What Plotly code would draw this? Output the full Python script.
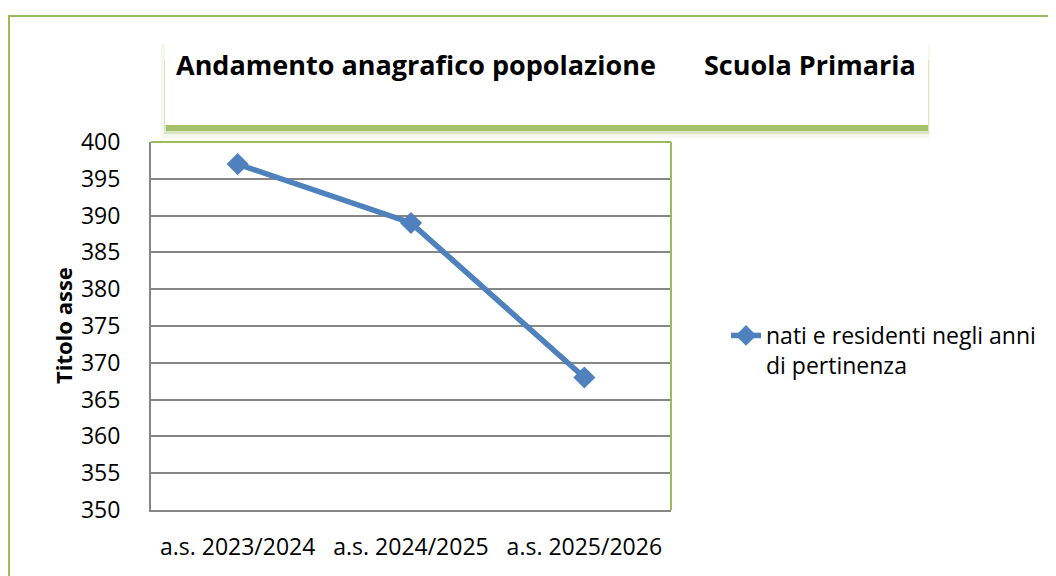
import plotly.graph_objects as go

# data
categories = ["a.s. 2023/2024", "a.s. 2024/2025", "a.s. 2025/2026"]
values = [397, 389, 368]
series_name = "nati e residenti negli anni<br>di pertinenza"
y_ticks = [350, 355, 360, 365, 370, 375, 380, 385, 390, 395, 400]

FONT = "Open Sans"
GREEN = "#9BBB59"
GRID = "#868686"
BLUE = "#4F81BD"

# the page body has an 8px margin, so the figure is a bit smaller than the window
OFF = 8
W, H = 1056 - OFF, 576 - OFF

# plot area in page pixels
PL, PR, PT, PB = 151, 671, 142, 510


def px(x):
    return (x - PL) / (PR - PL)


def py(y):
    return (PB - y) / (PB - PT)


def rect(x0, y0, x1, y1, **kw):
    return dict(type="rect", xref="paper", yref="paper",
                x0=px(x0), x1=px(x1), y0=py(y1), y1=py(y0), **kw)


def line(x0, y0, x1, y1, color, width):
    return dict(type="line", xref="paper", yref="paper",
                x0=px(x0), x1=px(x1), y0=py(y0), y1=py(y1),
                line=dict(color=color, width=width), layer="above")


fig = go.Figure()
fig.add_trace(go.Scatter(
    x=categories, y=values, name=series_name,
    mode="lines+markers",
    line=dict(color=BLUE, width=5.5),
    marker=dict(symbol="diamond", size=17, color=BLUE),
    showlegend=True,
))

shapes = []
# outer chart frame (runs off the page on the right and bottom)
shapes.append(rect(5, 16, 9, 600, fillcolor=GREEN, opacity=0.10, line_width=0, layer="below"))
shapes.append(rect(9, 16, 1070, 600, line=dict(color=GREEN, width=2), layer="below"))
# title box with green shadow underneath
shapes.append(rect(161, 44, 930, 138, fillcolor=GREEN, opacity=0.10, line_width=0, layer="below"))
shapes.append(rect(164, 60, 929, 134, fillcolor=GREEN, opacity=0.30, line_width=0, layer="below"))
shapes.append(rect(166, 122, 928, 131, fillcolor=GREEN, opacity=0.85, line_width=0, layer="below"))
shapes.append(rect(165, 40, 928, 125, fillcolor="white", line_width=0, layer="below"))
# plot area borders: green top and right
shapes.append(line(PL, PT, PR, PT, GREEN, 2))
shapes.append(line(PR, PT, PR, PB, GREEN, 2))

annotations = [
    dict(text="<b>Andamento anagrafico popolazione</b>", xref="paper", yref="paper",
         x=px(174), y=py(64), xanchor="left", yanchor="middle", showarrow=False,
         font=dict(family=FONT, size=27, color="black")),
    dict(text="<b>Scuola Primaria</b>", xref="paper", yref="paper",
         x=px(918), y=py(64), xanchor="right", yanchor="middle", showarrow=False,
         font=dict(family=FONT, size=27, color="black")),
    dict(text="<b>Titolo asse</b>", xref="paper", yref="paper",
         x=px(63), y=0.5, xanchor="center", yanchor="middle", showarrow=False,
         textangle=-90, font=dict(family=FONT, size=22, color="black")),
]

fig.update_layout(
    width=W, height=H,
    margin=dict(l=PL - OFF, r=1056 - PR, t=PT - OFF, b=576 - PB),
    paper_bgcolor="white", plot_bgcolor="white",
    font=dict(family=FONT, size=23, color="black"),
    shapes=shapes, annotations=annotations,
    legend=dict(x=px(726), y=py(314), xanchor="left", yanchor="top",
                valign="top", bgcolor="rgba(0,0,0,0)",
                font=dict(family=FONT, size=23, color="black")),
    xaxis=dict(type="category", range=[-0.5, 2.5], showgrid=False,
               showline=True, linecolor=GRID, linewidth=2, ticks="",
               ticklabelstandoff=15, tickfont=dict(size=23)),
    yaxis=dict(range=[350, 400], tickvals=y_ticks, showgrid=True,
               gridcolor=GRID, gridwidth=1.5, zeroline=False,
               showline=True, linecolor=GRID, linewidth=2, ticks="",
               ticklabelstandoff=24, tickfont=dict(size=23)),
)

fig.write_html("out.html")
